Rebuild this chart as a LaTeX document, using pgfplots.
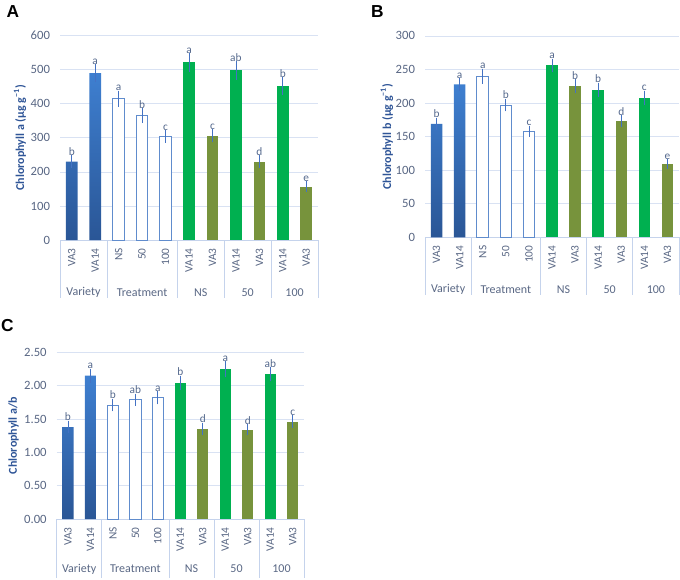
\documentclass[border=0pt]{standalone}
\usepackage{fontspec}
\setmainfont{Carlito}
\newfontfamily\arialf{Liberation Sans}
\usepackage{pgfplots}
\usepackage{pgfplotstable}
\pgfplotsset{compat=1.18}
\definecolor{tickc}{RGB}{89,103,132}
\definecolor{labc}{RGB}{47,85,151}
\definecolor{letc}{RGB}{84,104,140}
\definecolor{gridc}{RGB}{217,226,243}
\definecolor{sepc}{RGB}{197,211,236}
\definecolor{errc}{RGB}{68,114,196}
\definecolor{vtop}{RGB}{62,127,208}
\definecolor{vbot}{RGB}{42,86,150}
\definecolor{wline}{RGB}{96,140,205}
\definecolor{gA}{RGB}{0,176,80}
\definecolor{gB}{RGB}{119,147,60}

\pgfplotstableread{
x y e lab
0 230 10 b
1 490 18 a
2 415 15 a
3 365 13 b
4 305 10 c
5 522 19 a
6 306 10 c
7 498 18 ab
8 230 10 d
9 452 18 b
10 157 7 e
}\dataA
\pgfplotstableread{
x y e lab
0 169 5 b
1 228 5 a
2 240 7 a
3 197 5 b
4 158 4 c
5 256 6 a
6 225 6 b
7 220 6 b
8 173 5 d
9 208 6 c
10 109 3 e
}\dataB
\pgfplotstableread{
x y e lab
0 1.38 0.05 b
1 2.15 0.06 a
2 1.71 0.05 b
3 1.79 0.045 ab
4 1.82 0.055 a
5 2.045 0.06 b
6 1.35 0.05 d
7 2.25 0.075 a
8 1.34 0.04 d
9 2.17 0.06 ab
10 1.46 0.05 c
}\dataC

\tikzset{
  sep/.style={draw=sepc, line width=0.6pt},
  grp/.style={font=\fontsize{9}{10}\selectfont, text=tickc},
}
\pgfplotsset{
  panel/.style={
    scale only axis, clip=false,
    xmin=-0.5, xmax=10.5, ymin=0,
    xtick={0,...,10},
    xticklabels={VA3,VA14,NS,50,100,VA14,VA3,VA14,VA3,VA14,VA3},
    xticklabel style={rotate=90, anchor=east, inner sep=0pt,
      font=\fontsize{8.5}{9}\selectfont, text=tickc},
    xticklabel shift=6pt,
    yticklabel style={font=\fontsize{9.5}{10}\selectfont, text=tickc},
    yticklabel shift=4pt,
    /pgf/number format/assume math mode=true,
    axis x line*=bottom, axis y line*=left,
    x axis line style={draw=sepc, line width=0.6pt},
    y axis line style={draw=none},
    major tick length=0pt, tick style={draw=none},
    ymajorgrids, major grid style={draw=gridc, line width=0.6pt},
    ylabel style={anchor=center, font=\bfseries\fontsize{9}{10}\selectfont, text=labc},
  },
  vbar/.style={ybar, bar width=0.5, bar shift=0pt, draw=none, top color=vtop, bottom color=vbot},
  wbar/.style={ybar, bar width=0.5, bar shift=0pt, draw=wline, fill=white, line width=0.7pt},
  g14bar/.style={ybar, bar width=0.5, bar shift=0pt, draw=none, fill=gA},
  g3bar/.style={ybar, bar width=0.5, bar shift=0pt, draw=none, fill=gB},
  errplot/.style={draw=none, mark=none,
    error bars/.cd, y dir=both, y explicit, error mark=-,
    error bar style={draw=errc, line width=0.6pt},
    error mark options={rotate=0, draw=errc, mark size=2.2pt, line width=0.6pt}},
  letplot/.style={only marks, mark=*, mark size=0pt, mark options={draw=none, fill=none},
    nodes near coords, point meta=explicit symbolic,
    nodes near coords style={anchor=south, inner sep=1.8pt, font=\fontsize{8.5}{9}\selectfont, text=letc}},
}

\newcommand\groupdeco[2]{%
  \draw[sep] (axis cs:-0.5,0) -- ([yshift=-#1]axis cs:-0.5,0);
  \draw[sep] (axis cs:1.5,0) -- ([yshift=-#1]axis cs:1.5,0);
  \draw[sep] (axis cs:4.5,0) -- ([yshift=-#1]axis cs:4.5,0);
  \draw[sep] (axis cs:6.5,0) -- ([yshift=-#1]axis cs:6.5,0);
  \draw[sep] (axis cs:8.5,0) -- ([yshift=-#1]axis cs:8.5,0);
  \draw[sep] (axis cs:10.5,0) -- ([yshift=-#1]axis cs:10.5,0);
  \node[grp] at ([yshift=-#2]axis cs:0.5,0) {Variety};
  \node[grp] at ([yshift=-#2]axis cs:3,0) {Treatment};
  \node[grp] at ([yshift=-#2]axis cs:5.5,0) {NS};
  \node[grp] at ([yshift=-#2]axis cs:7.5,0) {50};
  \node[grp] at ([yshift=-#2]axis cs:9.5,0) {100};
}

\newcommand\panelplots[1]{%
  \addplot[vbar, restrict x to domain=0:1] table[x=x,y=y]{#1};
  \addplot[wbar, restrict x to domain=2:4] table[x=x,y=y]{#1};
  \addplot[g14bar, restrict x to domain=5:5] table[x=x,y=y]{#1};
  \addplot[g14bar, restrict x to domain=7:7] table[x=x,y=y]{#1};
  \addplot[g14bar, restrict x to domain=9:9] table[x=x,y=y]{#1};
  \addplot[g3bar, restrict x to domain=6:6] table[x=x,y=y]{#1};
  \addplot[g3bar, restrict x to domain=8:8] table[x=x,y=y]{#1};
  \addplot[g3bar, restrict x to domain=10:10] table[x=x,y=y]{#1};
  \addplot[errplot] table[x=x,y=y,y error=e]{#1};
  \addplot[letplot] table[x=x, y expr=\thisrow{y}+\thisrow{e}, meta=lab]{#1};
}

\begin{document}
\begin{tikzpicture}
\useasboundingbox (0,0) rectangle (510pt,434.25pt);

% Panel A
\begin{axis}[panel, at={(45pt,254.25pt)}, anchor=south west,
  width=193.5pt, height=153.2pt, ymax=600, ytick={0,100,...,600},
  ylabel={Chlorophyll a (µg g\textsuperscript{−1})},
  ylabel style={at={(axis description cs:-0.155,0.5)}}]
\panelplots{\dataA}
\groupdeco{43.5pt}{39.5pt}
\end{axis}

% Panel B
\begin{axis}[panel, at={(318.75pt,256.3pt)}, anchor=south west,
  width=190.5pt, height=151pt, ymax=300, ytick={0,50,...,300},
  ylabel={Chlorophyll b (µg g\textsuperscript{−1})},
  ylabel style={at={(axis description cs:-0.15,0.5)}}]
\panelplots{\dataB}
\groupdeco{43.5pt}{39pt}
\end{axis}

% Panel C
\begin{axis}[panel, at={(42.5pt,45pt)}, anchor=south west,
  width=185.5pt, height=125pt, ymax=2.5, ytick={0,0.5,...,2.5},
  yticklabel style={/pgf/number format/.cd, fixed, fixed zerofill, precision=2},
  ylabel={Chlorophyll a/b},
  ylabel style={at={(axis description cs:-0.174,0.5)}}]
\panelplots{\dataC}
\groupdeco{44pt}{37.5pt}
\end{axis}

\node[font=\arialf\bfseries\fontsize{13}{14}\selectfont] at (9.75pt,425.25pt) {A};
\node[font=\arialf\bfseries\fontsize{13}{14}\selectfont] at (283.1pt,425.25pt) {B};
\node[font=\arialf\bfseries\fontsize{13}{14}\selectfont] at (5.6pt,189.75pt) {C};
\end{tikzpicture}
\end{document}
